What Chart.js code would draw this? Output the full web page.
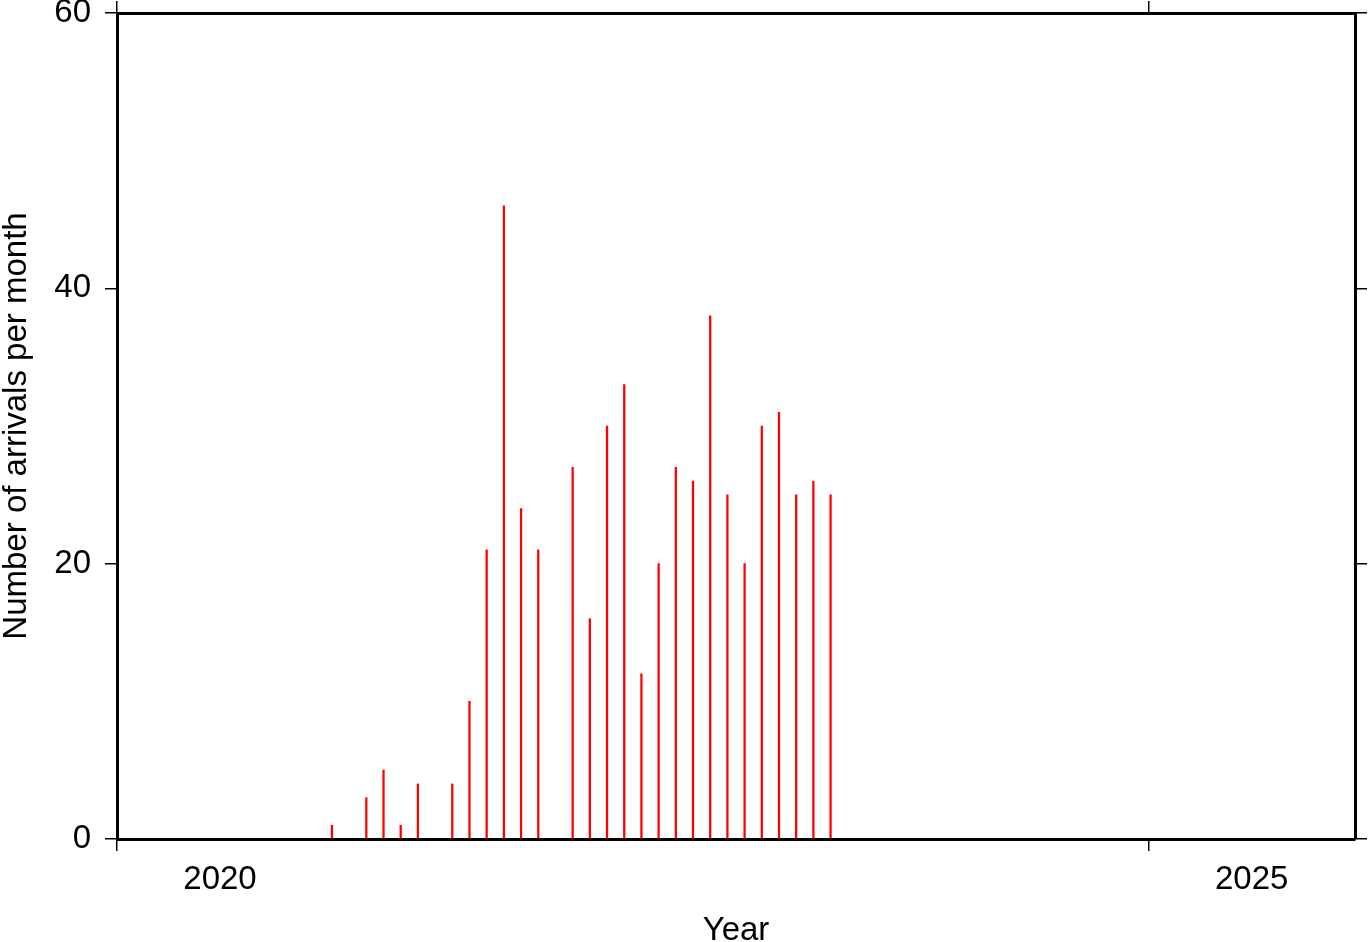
<!DOCTYPE html>
<html>
<head>
<meta charset="utf-8">
<script src="https://cdn.jsdelivr.net/npm/chart.js@4/dist/chart.umd.min.js"></script>
<style>
  body { margin: 0; background: #fff; }
  canvas { display: block; }
</style>
</head>
<body>
<canvas id="arrivals" width="1369" height="942"></canvas>
<script>
// meses con llegadas (AAAA-MM) y número de llegadas
const months = ['2021-01', '2021-03', '2021-04', '2021-05', '2021-06', '2021-08', '2021-09',
                '2021-10', '2021-11', '2021-12', '2022-01', '2022-03', '2022-04', '2022-05',
                '2022-06', '2022-07', '2022-08', '2022-09', '2022-10', '2022-11', '2022-12',
                '2023-01', '2023-02', '2023-03', '2023-04', '2023-05', '2023-06'];
const counts = [1, 3, 5, 1, 4, 4, 10, 21, 46, 24, 21, 27, 16, 30, 33, 12, 20, 27, 26, 38, 25,
                20, 30, 31, 25, 26, 25];
const yearTicks = [2020, 2025];
const countTicks = [0, 20, 40, 60];

// mitad de cada mes en años decimales
const points = months.map((m, i) => {
    const [yr, mo] = m.split('-').map(Number);
    return { x: yr + (mo - 0.5) / 12, y: counts[i] };
});

Chart.defaults.font.family = '"Liberation Sans", Arial, sans-serif';
Chart.defaults.color = '#000';

const setYearTicks = scale => { scale.ticks = yearTicks.map(v => ({ value: v })); };
const setCountTicks = scale => { scale.ticks = countTicks.map(v => ({ value: v })); };
// sin relleno extra por etiquetas que sobresalen
const noPad = s => { s.paddingTop = 0; s.paddingBottom = 0; s.paddingLeft = 0; s.paddingRight = 0; };

const frameGrid = { drawOnChartArea: false, drawTicks: true, tickLength: 12, color: '#000', lineWidth: 1.5, offset: false };
const frameBorder = { display: true, color: '#000', width: 3 };

new Chart(document.getElementById('arrivals'), {
    type: 'bar',
    data: {
        datasets: [{
            data: points,
            backgroundColor: 'rgb(255, 0, 0)',
            borderWidth: 0,
            barThickness: 1.6,
            xAxisID: 'x',
            yAxisID: 'y'
        }]
    },
    options: {
        responsive: false,
        animation: false,
        layout: { padding: 0 },
        plugins: { legend: { display: false }, tooltip: { enabled: false } },
        scales: {
            x: {
                type: 'linear', position: 'bottom', min: 2020, max: 2026, offset: false,
                afterBuildTicks: setYearTicks,
                afterFit: s => { s.height = 103; noPad(s); },
                grid: frameGrid, border: frameBorder,
                ticks: { font: { size: 33 }, labelOffset: 103, padding: 9, maxRotation: 0,
                         callback: v => String(v) },
                title: { display: true, text: 'Year', font: { size: 33 }, padding: { top: 0, bottom: -9 } }
            },
            xTop: {
                axis: 'x', type: 'linear', position: 'top', min: 2020, max: 2026, offset: false,
                afterBuildTicks: setYearTicks,
                afterFit: s => { s.height = 13; noPad(s); },
                grid: frameGrid, border: frameBorder,
                ticks: { display: false }
            },
            y: {
                type: 'linear', position: 'left', min: 0, max: 60,
                afterBuildTicks: setCountTicks,
                afterFit: s => { s.width = 117; noPad(s); },
                grid: frameGrid, border: frameBorder,
                ticks: { font: { size: 33 }, padding: 14 },
                title: { display: true, text: 'Number of arrivals per month', font: { size: 33 },
                         padding: { top: -3, bottom: 0 } }
            },
            yRight: {
                axis: 'y', type: 'linear', position: 'right', min: 0, max: 60,
                afterBuildTicks: setCountTicks,
                afterFit: s => { s.width = 14; noPad(s); },
                grid: frameGrid, border: frameBorder,
                ticks: { display: false }
            }
        }
    }
});
</script>
</body>
</html>
